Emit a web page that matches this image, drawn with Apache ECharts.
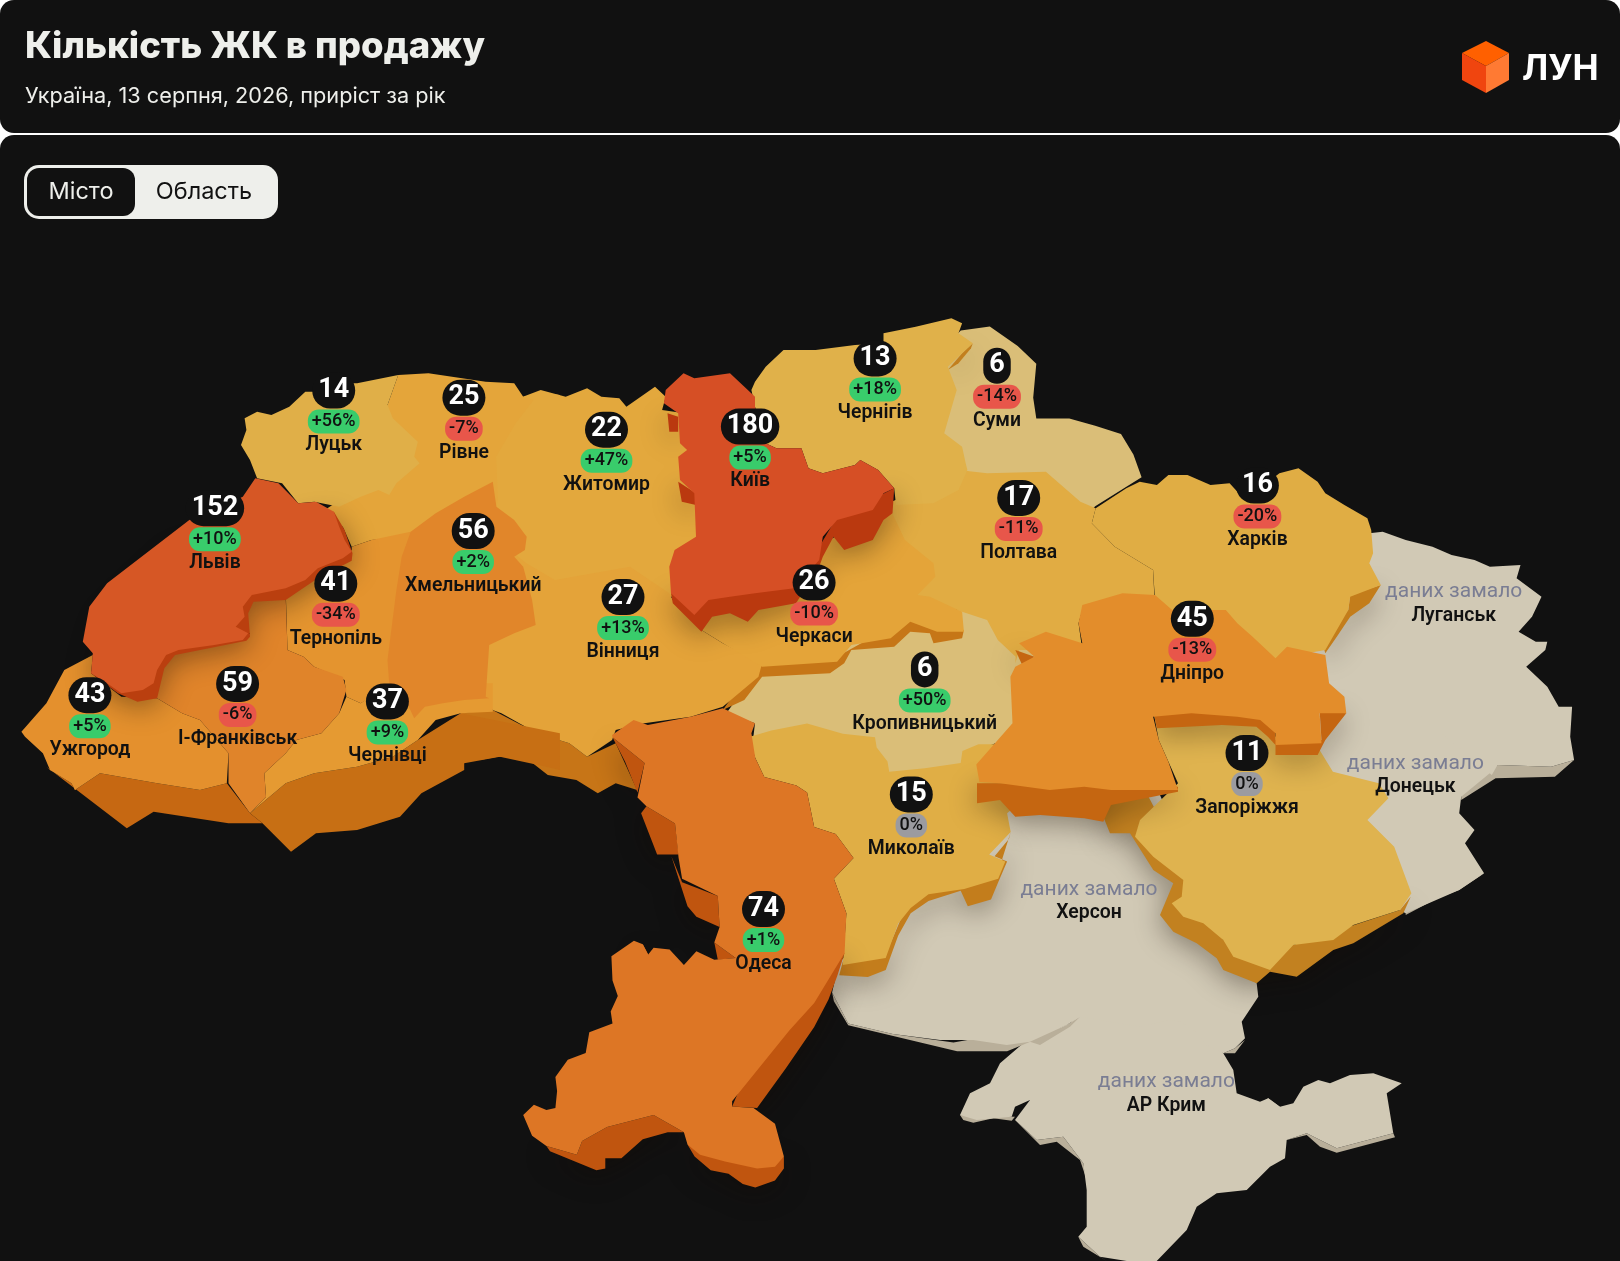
<!DOCTYPE html>
<html><head><meta charset="utf-8">
<script src="https://cdn.jsdelivr.net/npm/echarts@6/dist/echarts.min.js"></script>
<style>html,body{margin:0;padding:0;background:#fff}#c{width:1620px;height:1261px}</style>
</head><body><div id="c"></div>
<script>
// ---------- data ----------
const cityNames  = ['Луцьк','Рівне','Житомир','Київ','Чернігів','Суми','Львів','Хмельницький','Тернопіль','Полтава','Харків','Ужгород','І-Франківськ','Чернівці','Вінниця','Черкаси','Кропивницький','Дніпро','Миколаїв','Запоріжжя','Одеса'];
const cityCounts = [14,25,22,180,13,6,152,56,41,17,16,43,59,37,27,26,6,45,15,11,74];
const cityChanges= [56,-7,47,5,18,-14,10,2,-34,-11,-20,5,-6,9,13,-10,50,-13,0,0,1];
const noDataNames= ['Луганськ','Донецьк','Херсон','АР Крим'];
const noDataNote = 'даних замало';
const titleText  = 'Кількість ЖК в продажу';
const subtitleText = 'Україна, 13 серпня, 2026, приріст за рік';
const tabLabels  = ['Місто','Область'];
const brandName  = 'ЛУН';

// ---------- base map outline helpers (basemap geometry in page pixels) ----------
const crop=(x0,y0,fx,fy)=>(...v)=>{const o=[];for(let i=0;i<v.length;i+=2)o.push([Math.round((x0+v[i]*fx)*10)/10,Math.round((y0+v[i+1]*fy)*10)/10]);return o;};
const A=crop(0,350,.3571,1/3),B=crop(480,310,.3571,1/3),C=crop(1000,450,.3827,1/3),D=crop(500,720,.3571,.345),E=crop(940,800,1/3,1/3),M=crop(0,0,1620/1568,1620/1568);

const outline={
 'Крим-бік':[E(60,945,70,960,100,968,160,955,215,962,225,950),E(225,960,300,1035,350,1025,420,1080,440,1140,430,1090,370,1010,290,1020),E(415,1310,430,1340,500,1383,480,1370),E(1040,1020,1100,1005,1140,1040,1190,1058,1365,1012,1360,1000,1190,1045,1100,1000),E(985,895,1025,925,960,910)],
 'АР Крим':[E(250,730,180,790,150,850,90,880,60,945,110,960,215,950,225,920,270,900,225,960,290,1020,370,1010,430,1090,440,1170,440,1280,415,1310,480,1370,560,1383,650,1383,740,1290,770,1220,830,1180,920,1170,990,1100,1035,1075,1040,1020,1100,1000,1190,1045,1360,1000,1340,880,1385,850,1300,820,1230,825,1170,850,1135,840,1090,860,1060,910,1020,920,985,895,960,905,890,880,880,810,850,760,780,690,690,640,530,620,420,640,390,670)],
 'Херсон-бік':[D(930,790,935,815,975,885,1280,960,1420,960,1480,935,1568,895,1568,880,1270,935,1100,910,975,880),E(270,725,300,735,390,680,420,650,380,675),E(850,760,885,760,915,720,885,745)],
 'Херсон':[E(190,-60,480,-60,640,-60,800,300,800,400,950,550,955,590,905,665,915,715,885,745,850,760,800,735,770,695,720,665,690,660,600,680,420,650,380,675,270,725,200,735,100,720,0,720).concat(D(1100,910,975,880,930,790,950,700,1080,600,1300,200,1430,100))],
 'Донецьк-бік':[C(1500,930,1450,980,1295,985,1205,1050,1205,1030,1300,945,1440,950),C(1265,1270,1150,1340,1060,1395,1060,1380,1200,1320)],
 'Донецьк':[C(800,800,1100,790,1290,960,1205,1040,1200,1090,1240,1140,1215,1180,1265,1270,1200,1320,1060,1390,900,1300,800,900)],
 'Луганськ':[C(965,250,1000,245,1060,270,1130,290,1180,315,1240,330,1280,350,1360,345,1350,385,1415,440,1390,500,1355,545,1400,575,1430,575,1425,600,1375,650,1430,710,1460,770,1495,770,1490,860,1500,930,1440,950,1300,945,1285,975,1100,800,800,800,800,400)],
 'Суми':[M(930,320,958,316,985,335,1003,352,1000,385,1003,405,1035,405,1060,412,1085,420,1097,440,1105,462,1060,490,1040,510,1010,510,985,480,940,480,905,450,900,350)],
 'Кропивницький':[B(690,1210,790,1060,1040,950,1200,900,1360,900,1500,950,1650,1050,1650,1300,1490,1280,1395,1320,1350,1400,1150,1420,1060,1330,760,1330,770,1240)],
 'Полтава':[B(1340,480,1420,490).concat(C(120,65,210,155,250,175,240,220,300,290,400,360,405,480,320,480,215,480,205,520,215,600,120,600,50,600,40,640),B(1500,1040,1450,990,1420,930,1350,905,1200,850,1100,750,1100,600,1270,520))],
 'Чернігів-бік':[B(1380,100,1375,115,1340,160,1310,180,1350,130)],
 'Чернігів':[B(760,240,770,215,800,170,850,120,940,120,1050,105,1130,100,1130,70,1220,50,1320,25,1350,40,1340,70,1380,100,1350,130,1310,170,1335,240,1300,370,1350,410,1360,460,1365,480,1340,540,1270,580,1165,585,1160,535,1115,480,1065,450,1050,465,960,490,920,475,900,415,830,415,800,400,770,290)],
 'Харків-бік':[C(995,405,965,460,915,500,880,560,850,610,840,570,910,480,915,435)],
 'Харків':[C(250,175,330,115,365,95,410,105,440,75,490,75,550,105,600,100,640,150,730,70,780,55,830,95,850,130,900,165,960,205,970,240,975,310,965,340,995,405,915,440,910,480,880,540,850,600,750,620,720,640,660,580,620,540,590,500,450,500,405,450,400,360,300,290,240,220)],
 'Запоріжжя-бік':[E(490,-20,490,50,510,100,570,100,640,210,700,250,660,345,700,395,770,430,830,475,850,510,950,550,990,515,1070,530,1180,450,1240,430,1390,340,1412,290,1380,330,1060,435,850,420,620,-20)],
 'Запоріжжя':[C(400,780,500,770,620,780,680,790,720,860,830,890,870,965,990,1000,1015,1045,960,1110,1030,1190,1075,1330).concat(E(1380,330,1240,375,1180,420,1060,435,990,510,880,470,850,420,790,370,730,350,695,310,725,290,730,240,640,170,585,110,600,60),C(465,1000,415,870))],
 'Миколаїв-бік':[D(1430,325,1425,345,1385,395,1420,410,1395,470,1375,520,1310,540,1290,495,1200,525,1150,560,1115,625,1080,725,1030,745,950,740,960,700,1080,680,1140,535,1200,490,1300,470,1395,440)],
 'Миколаїв':[D(695,50,760,30,860,10,960,40,1050,50,1055,80,1085,120,1090,150,1190,140,1290,125,1295,90,1340,70,1500,70,1500,200,1420,270,1430,325,1370,390,1415,410,1395,460,1300,490,1200,505,1150,545,1115,590,1080,690,960,710,970,560,935,460,990,400,940,330,880,310,860,210,830,190,740,165,715,110)],
 'Рівне':[A(1115,75,1200,70,1360,95,1440,100,1465,140,1530,130,1568,135,1560,300,1560,500,1380,500,1300,480,1220,510,1150,560,1040,570,985,590,960,530,880,500,1010,410,1000,200,1085,165)],
 'Луцьк':[A(685,205,720,185,760,195,810,170,855,125,880,125,930,100,1000,100,1115,75,1085,165,1100,205,1170,275,1160,320,1175,340,1110,400,1090,435,1060,420,1010,440,950,470,880,455,835,460,790,400,720,385,700,330,675,285,690,240)],
 'Тернопіль':[A(985,590,1040,570,1150,545,1200,620,1200,720,1200,930,1090,1010,1010,1060,970,1040,965,990,880,950,850,920,805,900,800,720,900,650,985,600)],
 'Житомир':[B(120,260,170,240,240,260,300,235,340,260,390,265,410,290,490,230,520,260,510,300,640,320,640,680,640,860,420,860,210,860,130,800,20,700,50,570,45,440,100,340,150,270)],
 'Черкаси-бік':[B(1355,960,1350,985,1270,1000,1260,970,1205,965,1160,1010,1040,1020,1020,1060,980,1090,790,1100,740,1170,680,1200,780,1050,1000,1040,1200,920)],
 'Вінниця-бік':[B(-54,1209,35,1200,160,1270,250,1300,300,1340,380,1300,440,1440,380,1420,330,1450,270,1410,190,1395,130,1345,50,1340,0,1350,-54,1340)],
 'Вінниця':[B(60,700,0,900,0,1000,15,1150,35,1200,60,1210,160,1270,250,1300,300,1340,370,1290,380,1260,460,1240,590,1220,680,1190,780,1100,790,1060,680,1000,620,960,540,870,530,850,420,770,210,810,130,760)],
 'Черкаси':[B(960,700,1100,620,1150,600,1190,690,1270,760,1275,800,1225,855,1260,860,1350,905,1355,965,1280,965,1205,935,1150,985,1040,1005,1000,1055,790,1070,680,1000,620,960,540,870,640,870,770,850,880,835)],
 'Чернівці-бік':[A(700,1390,735,1420,815,1505,885,1450,1000,1440,1120,1400,1180,1330,1300,1260,1300,1240,1400,1220,1530,1250,1568,1260,1568,1150,1290,1090,1170,1170,1100,1220,1000,1250,880,1270,800,1300)],
 'Чернівці':[A(700,1390,745,1340,740,1270,800,1210,830,1170,900,1150,950,1090,970,1040,1010,1060,1090,1000,1380,1000,1380,1085,1290,1090,1220,1110,1170,1170,1100,1220,1000,1250,880,1270,800,1300)],
 'Ужгород-бік':[A(130,1250,355,1435,430,1385,640,1420,735,1420,700,1390,635,1300,560,1320,440,1300,280,1270,210,1320,200,1300,140,1260)],
 'Ужгород':[A(60,1145,130,1060,180,960,260,915,255,970,340,1040,440,1045,510,1090,560,1110,640,1210,635,1300,560,1320,440,1300,280,1270,210,1320,200,1300,140,1260,120,1210,70,1160)],
 'І-Франківськ':[A(400,1045,420,900,500,880,680,870,700,850,660,830,685,790,710,740,800,740,805,900,850,920,880,950,960,980,970,1020,950,1090,900,1150,830,1170,800,1210,740,1270,745,1340,700,1390,640,1300,640,1210,560,1110,510,1090,440,1045)],
 'Хмельницький':[A(1380,395,1390,470,1440,510,1475,560,1470,600,1440,620,1465,650,1490,750,1500,825,1440,850,1370,885,1360,1040,1370,1045,1300,1050,1240,1060,1190,1070,1160,1105,1140,1060,1090,1000,1085,930,1110,720,1125,620,1150,545,1220,490,1300,440)],
 'Одеса-бік':[D(965,675,945,740,920,810,880,890,800,1010,720,1125,650,1120,700,1000,800,860,900,700),D(795,1265,795,1300,770,1335,715,1355,680,1345,640,1315,590,1305,545,1265,525,1230,630,1270,770,1285),D(515,1195,430,1145,300,1180,230,1220,215,1260,130,1235,140,1250,270,1305,295,1300,295,1270,340,1270,400,1215,470,1195),D(315,50,350,120,385,210,405,125),D(395,270,440,390,500,390,490,300,410,250),D(480,395,510,470,610,510,615,600,550,570,525,540),D(600,645,610,695,660,690),D(400,650,390,705,415,680)],
 'Одеса':[B(370,1275,430,1230,470,1245,590,1220,680,1195,770,1240,760,1270).concat(D(715,110,740,165,830,190,860,210,880,310,940,330,990,400,935,460,970,560,965,675,880,820,810,900,650,1105,650,1120,710,1125,770,1170,795,1265,770,1295,720,1300,630,1280,560,1260,525,1230,515,1195,430,1145,300,1180,230,1220,215,1260,130,1235,90,1205,65,1145,95,1115,130,1130,155,1125,160,1075,155,1035,190,985,240,965,250,905,315,880,310,845,330,800,315,755,312,685,375,640,400,650,415,680,430,660,475,665,515,710,550,670,600,695,660,690,600,645,615,600,610,510,510,460,500,400,490,300,410,250,385,225,405,125,315,50))],
 'Дніпро-бік':[C(905,790,850,870,830,915,720,915,720,870,840,870,835,780),C(720,885,700,860,670,830,580,825,410,835,400,780,500,770,620,780,680,790,720,840),C(465,1025,290,1065,270,1115,220,1105,105,1095,40,1100,0,1050,-60,1060,-60,1000,130,1000,465,1010),C(40,600,90,620,60,650)],
 'Дніпро':[C(215,465,320,430,405,435,450,480,590,480,620,520,660,560,720,625,750,590,850,615,860,700,900,740,905,790,835,790,840,880,720,885,720,850,680,810,620,800,500,790,400,800,415,870,440,935,465,1020,290,1020,220,1010,130,1020,0,1000).concat(M(948,757,945,740,980,700,978,655),C(40,650,90,620,50,580,120,545,215,580,205,520))],
 'Львів-бік':[A(935,485,965,540,987,610,985,632,890,685,800,750,710,755,695,790,700,860,690,872,560,900,490,915,460,955,440,1045,385,1055,330,1030,255,970,300,800,500,600)],
 'Львів':[A(715,385,780,400,835,460,885,455,935,485,950,530,965,570,985,605,960,625,890,655,855,690,800,715,705,735,680,770,685,800,660,830,695,850,680,870,600,885,500,900,465,915,440,960,430,1000,400,1020,340,1030,300,1000,255,970,260,910,232,875,250,770,300,700,530,510,680,440)],
 'Київ-бік':[B(1160,535,1155,610,1130,630,1100,690,1020,720,990,680,960,740,950,770,885,880,780,900,750,935,700,910,650,920,620,965,540,880,535,850,640,860,900,800,1000,620),B(525,310,530,365,555,365,555,320),B(555,515,565,575,605,585,605,550)],
 'Київ':[B(520,240,570,190,600,205,700,190,770,260,770,290,800,400,830,415,900,415,920,475,960,490,1050,465,1065,450,1115,480,1160,535,1130,550,1100,600,1000,630,960,680,950,750,880,835,770,850,700,860,640,870,600,915,535,850,530,770,545,720,605,680,600,550,560,510,555,440,580,420,560,400,555,310,515,280)]
};
const cityAnchors={'Луцьк':[323,406],'Рівне':[449,413],'Житомир':[587,444],'Київ':[726,441],'Чернігів':[847,375],'Суми':[965,382],'Львів':[208,520],'Хмельницький':[458,542],'Тернопіль':[325,593],'Полтава':[986,510],'Харків':[1217,498],'Ужгород':[87,701],'І-Франківськ':[230,690],'Чернівці':[375,707],'Вінниця':[603,606],'Черкаси':[788,592],'Кропивницький':[895,676],'Дніпро':[1154,627],'Миколаїв':[882,797],'Запоріжжя':[1207,757],'Одеса':[739,908]};
const noDataAnchors={'Луганськ':[1407,571],'Донецьк':[1370,737],'Херсон':[1054,859],'АР Крим':[1129,1045]};
const toPage=p=>M(p[0],p[1])[0];

// ---------- colour scale: count -> region colour ----------
const stops=[[6,[218,190,120]],[11,[223,179,79]],[15,[224,174,69]],[25,[228,165,58]],[37,[229,154,50]],[45,[227,141,43]],[59,[224,132,42]],[74,[221,118,37]],[152,[214,87,37]],[180,[214,79,37]]];
const scaleColor=v=>{for(let i=1;i<stops.length;i++){if(v<=stops[i][0]){const [a,ca]=stops[i-1],[b,cb]=stops[i],t=(v-a)/(b-a);return ca.map((c,k)=>c+(cb[k]-c)*t);}}return stops[stops.length-1][1];};
const rgb=c=>`rgb(${c.map(Math.round).join(',')})`;
const side=c=>[c[0]*.87,c[1]*.72,c[2]*.4];
const noDataTop='#D1C9B5',noDataSide='#B9AF9A';

// ---------- register the outline as a map ----------
const names=Object.keys(outline);
echarts.registerMap('ua',{type:'FeatureCollection',features:names.map(n=>({type:'Feature',properties:{name:n},geometry:{type:'MultiPolygon',coordinates:outline[n].map(r=>[r.concat([r[0]])])}}))});
const raised=['Київ-бік','Дніпро-бік','Львів-бік','Запоріжжя-бік','Миколаїв-бік','Харків-бік','Одеса-бік','Чернігів-бік'];
const regions=names.map(n=>{
  const isSide=n.endsWith('-бік'),base=n.replace('-бік',''),idx=cityNames.indexOf(base);
  let color;
  if(idx<0) color=isSide?noDataSide:noDataTop;
  else {const c=scaleColor(cityCounts[idx]);color=rgb(isSide?side(c):c);}
  const st={areaColor:color,borderWidth:0};
  if(raised.includes(n)){st.shadowBlur=28;st.shadowColor='rgba(20,10,0,.4)';st.shadowOffsetY=6;}
  return {name:n,itemStyle:st};
});

const fmt=v=>v>0?'+'+v+'%':v+'%';
const pct=v=>v>0?'#39CC6B':v<0?'#E8564A':'#9B9BA0';
const F='Roboto';
const base={type:'scatter',coordinateSystem:'geo',geoIndex:0,symbolSize:1,itemStyle:{color:'transparent',opacity:1},silent:true,z:10};
const cityAt=n=>toPage(cityAnchors[n]);

const chart=echarts.init(document.getElementById('c'),null,{renderer:'canvas',width:1620,height:1261});
chart.setOption({
  animation:false,
  backgroundColor:'#ffffff',
  title:{left:20,top:21,text:titleText,itemGap:15,subtext:subtitleText,
    textStyle:{fontFamily:'Inter',fontWeight:800,fontSize:36.5,color:'#EEEFEB',lineHeight:42},
    subtextStyle:{fontFamily:'Inter',fontWeight:400,fontSize:21.7,color:'#EEEFEB',lineHeight:26}},
  tooltip:{show:false},
  geo:{map:'ua',left:0,top:0,width:1620,height:1261,
    projection:{project:p=>p,unproject:p=>p},
    boundingCoords:[[0,0],[1620,1261]],
    roam:false,silent:true,selectedMode:false,label:{show:false},
    itemStyle:{areaColor:noDataTop,borderWidth:0},
    emphasis:{disabled:true},regions},
  series:[
   {...base,name:'count',data:cityNames.map((n,i)=>({name:n,value:cityAt(n),count:cityCounts[i]})),
    label:{show:true,position:'inside',offset:[0,-29],formatter:p=>String(p.data.count),fontFamily:F,fontWeight:700,fontSize:27,lineHeight:26,color:'#fff',backgroundColor:'#111111',padding:[5,6],borderRadius:18}},
   ...[1,-1,0].map(sign=>({...base,name:'change'+sign,
     data:cityNames.map((n,i)=>({name:n,value:cityAt(n),change:cityChanges[i]})).filter(d=>Math.sign(d.change)===sign),
     label:{show:true,position:'inside',offset:[0,2],formatter:p=>fmt(p.data.change),fontFamily:F,fontWeight:500,fontSize:18,lineHeight:18,color:'#111',backgroundColor:pct(sign),padding:[3,4],borderRadius:11}})),
   {...base,name:'city',data:cityNames.map(n=>({name:n,value:cityAt(n)})),
    label:{show:true,position:'inside',offset:[0,26],formatter:'{b}',fontFamily:F,fontWeight:600,fontSize:19.4,color:'#111'}},
   {...base,name:'note',data:noDataNames.map(n=>({name:n,value:toPage(noDataAnchors[n])})),
    label:{show:true,position:'inside',offset:[0,2],formatter:()=>noDataNote,fontFamily:F,fontWeight:400,fontSize:21,color:'#7A7D93'}},
   {...base,name:'noDataCity',data:noDataNames.map(n=>({name:n,value:toPage(noDataAnchors[n])})),
    label:{show:true,position:'inside',offset:[0,26],formatter:'{b}',fontFamily:F,fontWeight:600,fontSize:19.4,color:'#111'}}
  ],
  graphic:{elements:[
    {type:'rect',silent:true,z:-20,shape:{x:0,y:0,width:1620,height:133,r:14},style:{fill:'#111111'}},
    {type:'rect',silent:true,z:-20,shape:{x:0,y:135,width:1620,height:1126,r:[14,14,0,0]},style:{fill:'#111111'}},
    {type:'rect',silent:true,z:5,shape:{x:24,y:165,width:254,height:54,r:15},style:{fill:'#EEEFEB'}},
    {type:'rect',silent:true,z:6,shape:{x:27,y:168,width:108,height:48,r:12},style:{fill:'#111111'}},
    {type:'text',silent:true,z:7,style:{x:81,y:192,text:tabLabels[0],fill:'#EEEFEB',font:'400 23.5px Inter',align:'center',verticalAlign:'middle'}},
    {type:'text',silent:true,z:7,style:{x:204,y:192,text:tabLabels[1],fill:'#111111',font:'400 23.5px Inter',align:'center',verticalAlign:'middle'}},
    {type:'polygon',silent:true,z:5,shape:{points:[[1486,41],[1509,53],[1486,66],[1462,53]]},style:{fill:'#FF6000'}},
    {type:'polygon',silent:true,z:5,shape:{points:[[1462,53],[1486,66],[1486,93],[1462,80]]},style:{fill:'#F0450F'}},
    {type:'polygon',silent:true,z:5,shape:{points:[[1509,53],[1486,66],[1486,93],[1509,80]]},style:{fill:'#FF7A33'}},
    {type:'text',silent:true,z:7,style:{x:1522,y:69,text:brandName,fill:'#FFFFFF',font:'700 35px Inter',align:'left',verticalAlign:'middle'}}
  ]}
});
</script></body></html>
